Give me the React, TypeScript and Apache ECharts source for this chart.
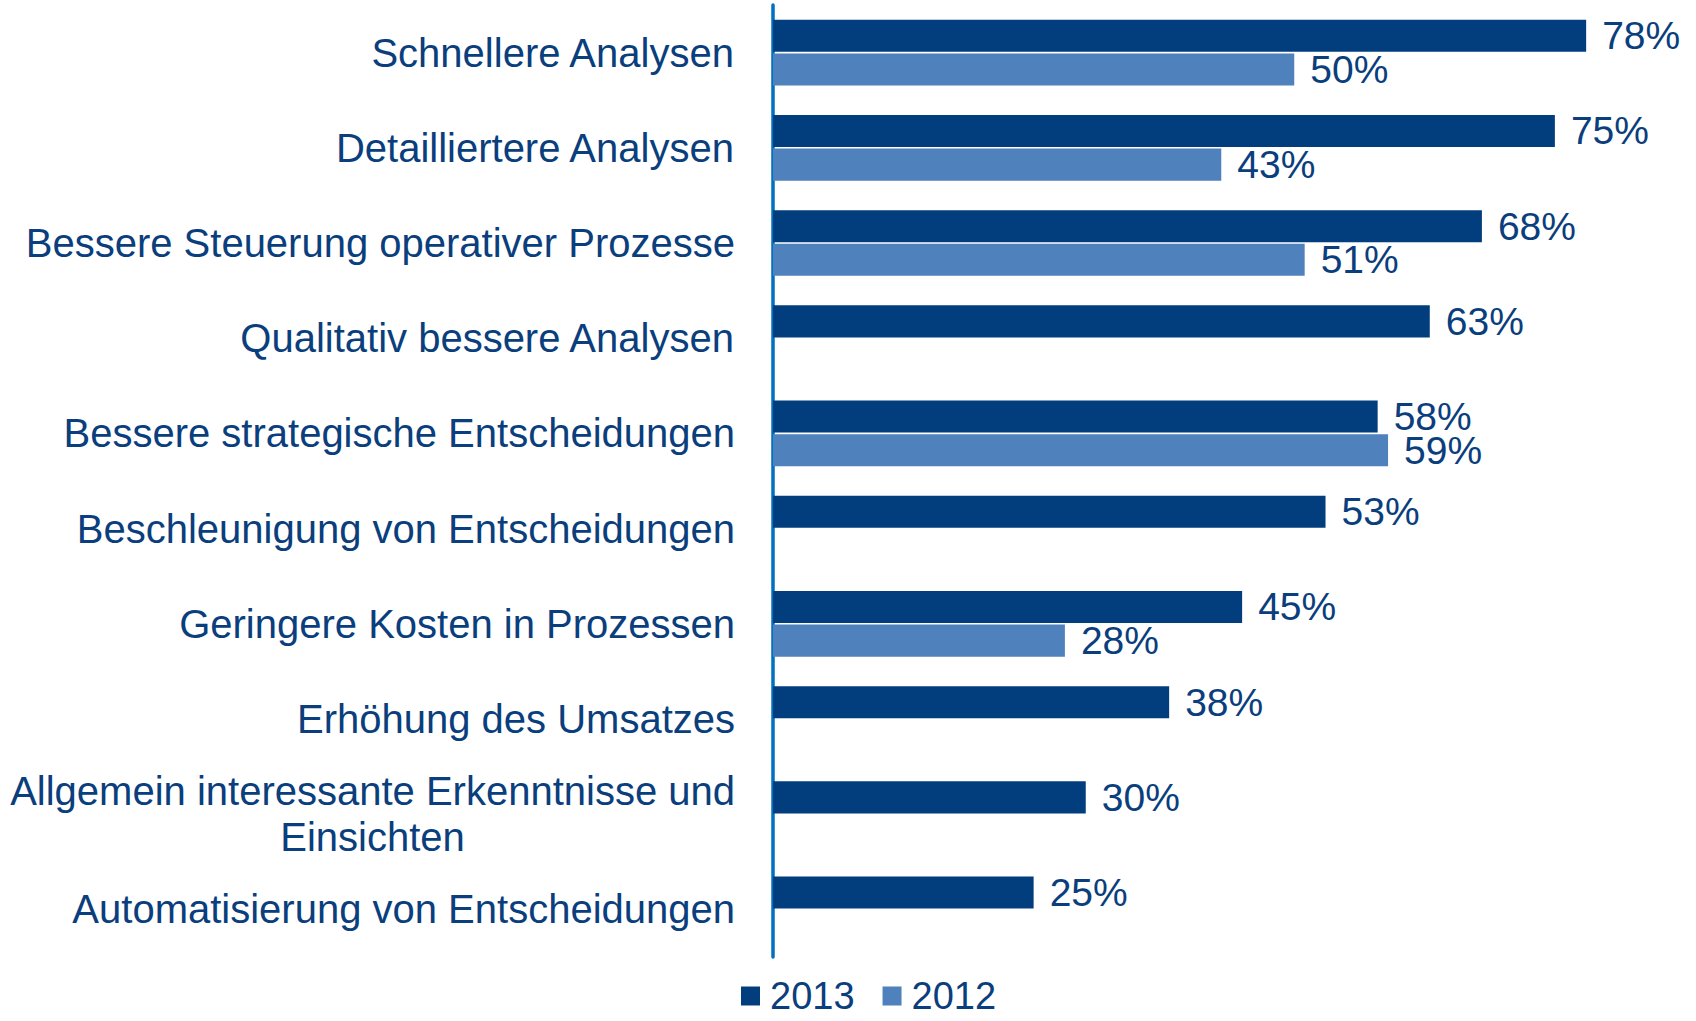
import React, { useEffect, useRef } from "react";
import * as echarts from "echarts";

const categories = [
  "Schnellere Analysen",
  "Detailliertere Analysen",
  "Bessere Steuerung operativer Prozesse",
  "Qualitativ bessere Analysen",
  "Bessere strategische Entscheidungen",
  "Beschleunigung von Entscheidungen",
  "Geringere Kosten in Prozessen",
  "Erhöhung des Umsatzes",
  "Allgemein interessante Erkenntnisse und\nEinsichten",
  "Automatisierung von Entscheidungen",
];
const values2013 = [78, 75, 68, 63, 58, 53, 45, 38, 30, 25];
const values2012: (number | null)[] = [50, 43, 51, null, 59, null, 28, null, null, null];
const seriesNames = ["2013", "2012"];

const DARK = "#023E7D";
const LIGHT = "#4F81BD";
const TEXT = "#0A3E7C";
const FONT = "'Liberation Sans', Arial, sans-serif";

export default function App() {
  const ref = useRef<HTMLDivElement>(null);
  useEffect(() => {
    if (!ref.current) return;
    const chart = echarts.init(ref.current, null, { renderer: "svg" });
    chart.setOption({
      animation: false,
      backgroundColor: "#ffffff",
      textStyle: { fontFamily: FONT },
      grid: { left: 773, right: 89, top: 5, bottom: 64, containLabel: false },
      legend: {
        data: seriesNames,
        left: 741,
        top: 977,
        padding: 0,
        icon: "rect",
        itemWidth: 19,
        itemHeight: 19,
        itemGap: 28,
        textStyle: {
          fontSize: 38,
          lineHeight: 38,
          color: TEXT,
          fontFamily: FONT,
          padding: [0, 0, 0, 5],
        },
      },
      xAxis: {
        type: "value",
        min: 0,
        max: 80,
        show: false,
      },
      yAxis: {
        type: "category",
        inverse: true,
        data: categories,
        axisLine: { show: true, lineStyle: { color: "#0070C0", width: 3.5 } },
        axisTick: { show: false },
        splitLine: { show: false },
        axisLabel: {
          margin: 38,
          align: "right",
          formatter: (v: string) => `{a|${v}}`,
          rich: {
            a: {
              align: "center",
              fontSize: 40,
              lineHeight: 46,
              color: TEXT,
              fontFamily: FONT,
            },
          },
        },
      },
      series: [
        {
          name: seriesNames[0],
          type: "bar",
          data: values2013,
          barGap: "5%",
          barCategoryGap: "31%",
          itemStyle: { color: DARK },
          label: {
            show: true,
            position: "right",
            distance: 16,
            formatter: "{c}%",
            fontSize: 39,
            color: TEXT,
            fontFamily: FONT,
          },
        },
        {
          name: seriesNames[1],
          type: "bar",
          data: values2012,
          itemStyle: { color: LIGHT },
          label: {
            show: true,
            position: "right",
            distance: 16,
            formatter: "{c}%",
            fontSize: 39,
            color: TEXT,
            fontFamily: FONT,
          },
        },
      ],
    });
    return () => chart.dispose();
  }, []);
  return (
    <div
      ref={ref}
      style={{ position: "fixed", left: 0, top: 0, width: 1696, height: 1021 }}
    />
  );
}
